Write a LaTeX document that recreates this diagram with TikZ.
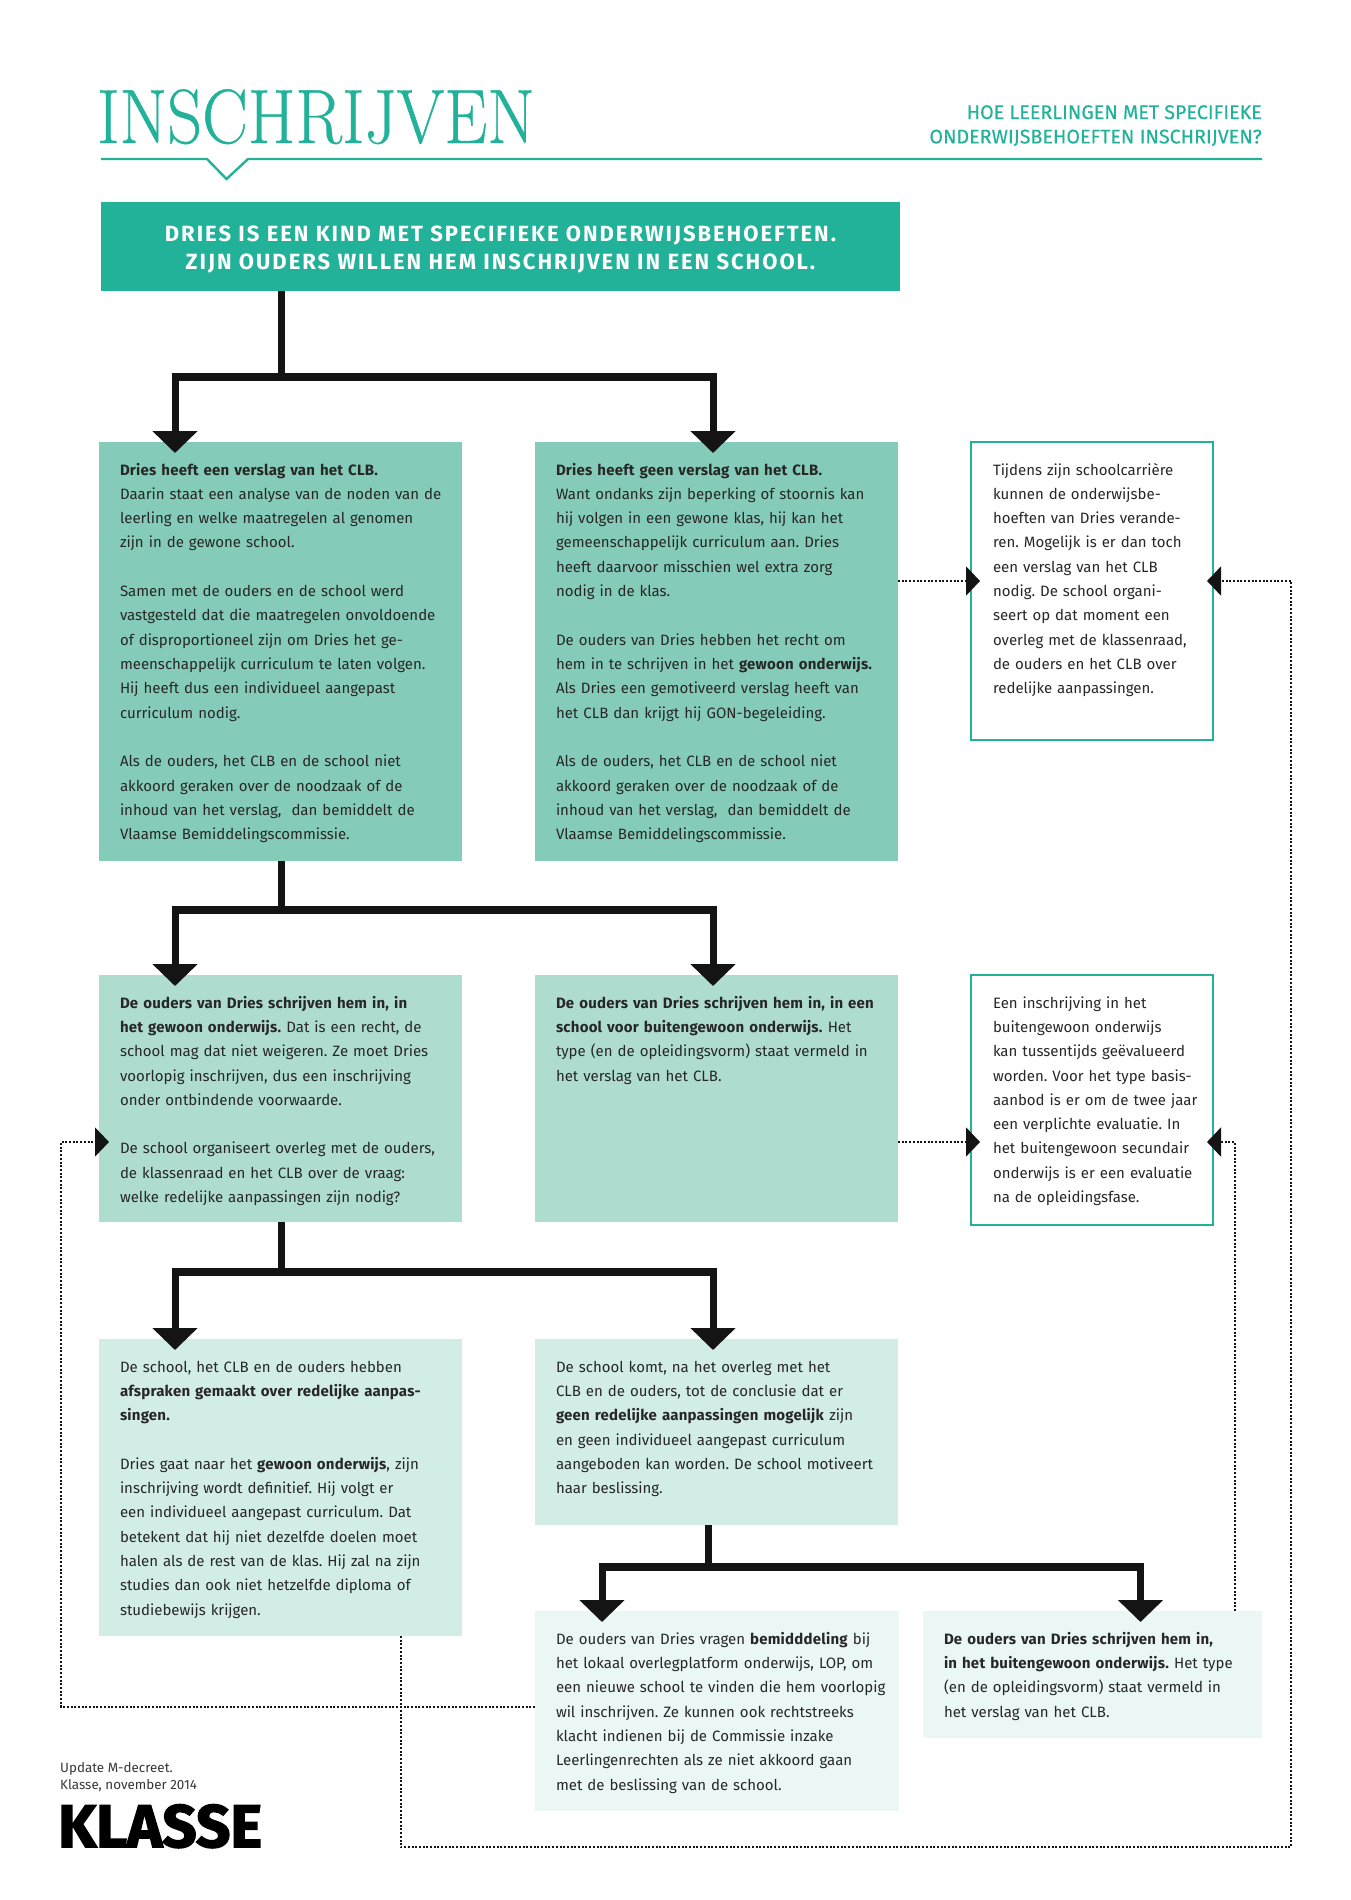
\documentclass[tikz,border=0pt]{standalone}
\usepackage{fontspec}
\setsansfont[BoldFeatures={LetterSpace=1.5}]{Fira Sans}
\newfontfamily\titlefont[FakeBold=0.5]{Latin Modern Roman}
\newfontfamily\headfont[FakeBold=0.35]{Fira Sans}
\newfontfamily\capsfont[LetterSpace=9]{Fira Sans}
\newfontfamily\logofont[FakeBold=2.5]{Fira Sans}
\usepackage{xcolor}
\usetikzlibrary{arrows.meta,positioning,calc}
\definecolor{klassegreen}{HTML}{22B29A}
\definecolor{rowone}{HTML}{85CBB9}
\definecolor{rowtwo}{HTML}{AEDCCF}
\definecolor{rowthree}{HTML}{D2EDE5}
\definecolor{rowfour}{HTML}{EAF7F4}
\definecolor{inkblack}{HTML}{141414}
\newcommand{\gap}{\\[24.33pt]}
\tikzset{
  bodybox/.style={anchor=north west, inner xsep=21pt, inner ysep=0pt, outer sep=0pt,
    text height=33pt, align=left, text=inkblack!92,
    font=\sffamily\frenchspacing\fontsize{15}{24.33}\selectfont},
  notebox/.style={bodybox, inner xsep=22pt, text width=198pt, fill=white, draw=klassegreen, line width=1.2pt},
  stem/.style={line width=7pt, inkblack},
  forkbar/.style={line width=8pt, inkblack},
  arm/.style={line width=7pt, inkblack, shorten >=-11pt, -{Triangle[width=44pt,length=22pt]}},
  dots/.style={line width=2pt, inkblack, dash pattern=on 2pt off 1.7pt},
  sidearrow/.style={dots, -{Triangle[width=29pt,length=14pt]}}
}
\begin{document}
\begin{tikzpicture}[x=1pt,y=-1pt]
\useasboundingbox (0,0) rectangle (1350,1900);
% Title and rule
\node[anchor=base west, inner sep=0pt, text=klassegreen, font=\titlefont\fontsize{77}{77}\selectfont, xscale=0.89, transform shape] (title) at (97,143) {INSCHRIJVEN};
\node[anchor=base east, inner sep=0pt, text=klassegreen, align=right, font=\headfont\fontsize{19.7}{24.4}\selectfont] (subtitle) at (1262,143.4) {HOE LEERLINGEN MET SPECIFIEKE\\ONDERWIJSBEHOEFTEN INSCHRIJVEN?};
\coordinate (ruleL) at (101,159);
\coordinate (ruleR) at (1262,159);
\draw[klassegreen, line width=2.4pt] (ruleL) -- (207,159) -- (226.5,179) -- (248,159) -- (ruleR);
% Intro box
\node[anchor=north west, fill=klassegreen, text=white, outer sep=0pt, inner sep=0pt, text width=799pt, text height=39.5pt, text depth=49.5pt, align=center, font=\capsfont\bfseries\fontsize{22}{28}\selectfont] (intro) at (101,202) {DRIES IS EEN KIND MET SPECIFIEKE ONDERWIJSBEHOEFTEN.\\ZIJN OUDERS WILLEN HEM INSCHRIJVEN IN EEN SCHOOL.};
% First row
\node[bodybox, fill=rowone, text width=321pt, text depth=386pt] (report) at (99,442) {\textbf{Dries heeft een verslag van het CLB.}\\\mbox{Daarin staat een analyse van de noden van de}\\leerling en welke maatregelen al genomen\\zijn in de gewone school.\gap Samen met de ouders en de school werd\\\mbox{vastgesteld dat die maatregelen onvoldoende}\\of disproportioneel zijn om Dries het ge-\\\mbox{meenschappelijk curriculum te laten volgen.}\\Hij heeft dus een individueel aangepast\\curriculum nodig.\gap Als de ouders, het CLB en de school niet\\akkoord geraken over de noodzaak of de\\inhoud van het verslag,\ \ dan bemiddelt de\\Vlaamse Bemiddelingscommissie.};
\node[bodybox, fill=rowone, text width=321pt, text depth=386pt] (noreport) at (535,442) {\textbf{Dries heeft geen verslag van het CLB.}\\Want ondanks zijn beperking of stoornis kan\\hij volgen in een gewone klas, hij kan het\\gemeenschappelijk curriculum aan. Dries\\heeft daarvoor misschien wel extra zorg\\nodig in de klas.\gap De ouders van Dries hebben het recht om\\\mbox{hem in te schrijven in het \textbf{gewoon onderwijs.}}\\Als Dries een gemotiveerd verslag heeft van\\het CLB dan krijgt hij GON-begeleiding.\gap Als de ouders, het CLB en de school niet\\akkoord geraken over de noodzaak of de\\inhoud van het verslag,\ \ dan bemiddelt de\\Vlaamse Bemiddelingscommissie.};
\node[notebox, text depth=265pt] (noteone) at (971,442) {Tijdens zijn schoolcarrière\\kunnen de onderwijsbe-\\\mbox{hoeften van Dries verande-}\\\mbox{ren. Mogelijk is er dan toch}\\een verslag van het CLB\\nodig. De school organi-\\seert op dat moment een\\\mbox{overleg met de klassenraad,}\\de ouders en het CLB over\\redelijke aanpassingen.};
% Second row
\node[bodybox, fill=rowtwo, text width=321pt, text depth=214pt] (gewoon) at (99,975) {\textbf{De ouders van Dries schrijven hem in, in}\\\textbf{het gewoon onderwijs.} Dat is een recht, de\\school mag dat niet weigeren. Ze moet Dries\\voorlopig inschrijven, dus een inschrijving\\onder ontbindende voorwaarde.\gap \mbox{De school organiseert overleg met de ouders,}\\de klassenraad en het CLB over de vraag:\\welke redelijke aanpassingen zijn nodig?};
\node[bodybox, fill=rowtwo, text width=321pt, text depth=214pt] (buitengewoon) at (535,975) {\mbox{\textbf{De ouders van Dries schrijven hem in, in een}}\\\textbf{school voor buitengewoon onderwijs.} Het\\type (en de opleidingsvorm) staat vermeld in\\het verslag van het CLB.};
\node[notebox, text depth=217pt] (notetwo) at (971,975) {Een inschrijving in het\\buitengewoon onderwijs\\\mbox{kan tussentijds geëvalueerd}\\\mbox{worden. Voor het type basis-}\\\mbox{aanbod is er om de twee jaar}\\een verplichte evaluatie. In\\\mbox{het buitengewoon secundair}\\\mbox{onderwijs is er een evaluatie}\\na de opleidingsfase.};
% Third row
\node[bodybox, fill=rowthree, text width=321pt, text depth=264pt] (afspraken) at (99,1339) {De school, het CLB en de ouders hebben\\\mbox{\textbf{afspraken gemaakt over redelijke aanpas-}}\\\textbf{singen.}\gap Dries gaat naar het \textbf{gewoon onderwijs}, zijn\\inschrijving wordt definitief. Hij volgt er\\een individueel aangepast curriculum. Dat\\betekent dat hij niet dezelfde doelen moet\\halen als de rest van de klas. Hij zal na zijn\\studies dan ook niet hetzelfde diploma of\\studiebewijs krijgen.};
\node[bodybox, fill=rowthree, text width=321pt, text depth=153pt] (conclusie) at (535,1339) {De school komt, na het overleg met het\\CLB en de ouders, tot de conclusie dat er\\\mbox{\textbf{geen redelijke aanpassingen mogelijk} zijn}\\en geen individueel aangepast curriculum\\\mbox{aangeboden kan worden. De school motiveert}\\haar beslissing.};
% Fourth row
\node[bodybox, fill=rowfour, text width=322pt, text depth=167pt] (lop) at (535,1611) {De ouders van Dries vragen \textbf{bemidddeling} bij\\\mbox{het lokaal overlegplatform onderwijs, LOP, om}\\\mbox{een nieuwe school te vinden die hem voorlopig}\\wil inschrijven. Ze kunnen ook rechtstreeks\\klacht indienen bij de Commissie inzake\\Leerlingenrechten als ze niet akkoord gaan\\met de beslissing van de school.};
\node[bodybox, fill=rowfour, text width=297pt, text depth=94pt] (inschrijving) at (923,1611) {\textbf{De ouders van Dries schrijven hem in,}\\\mbox{\textbf{in het buitengewoon onderwijs.} Het type}\\(en de opleidingsvorm) staat vermeld in\\het verslag van het CLB.};
% Footer
\node[anchor=base west, inner sep=0pt, align=left, text=inkblack!85, font=\sffamily\fontsize{13.4}{16.5}\selectfont] (update) at (60,1789) {Update M-decreet.\\Klasse, november 2014};
\node[anchor=base west, inner sep=0pt, text=black, font=\logofont\bfseries\fontsize{60}{60}\selectfont] (logo) at (58,1847) {KLASSE};
% Forks
\coordinate (forkA) at (281,377);
\coordinate (forkB) at (281,910);
\coordinate (forkC) at (281,1272);
\coordinate (forkD) at (708.5,1567);
\draw[stem] (intro.south -| forkA) -- (forkA);
\draw[stem] (report.south -| forkB) -- (forkB);
\draw[stem] (gewoon.south -| forkC) -- (forkC);
\draw[stem] (conclusie.south -| forkD) -- (forkD);
\draw[forkbar] (171.5,377) -- (716.5,377);
\draw[forkbar] (171.5,910) -- (716.5,910);
\draw[forkbar] (171.5,1272) -- (716.5,1272);
\draw[forkbar] (598.5,1567) -- (1144,1567);
\draw[arm] (175,373) -- (175,442);
\draw[arm] (713,373) -- (713,442);
\draw[arm] (175,906) -- (175,975);
\draw[arm] (713,906) -- (713,975);
\draw[arm] (175,1268) -- (175,1339);
\draw[arm] (713,1268) -- (713,1339);
\draw[arm] (602,1563) -- (602,1611);
\draw[arm] (1140.5,1563) -- (1140.5,1611);
% Feedback lines
\coordinate (sideA) at (971,581);
\coordinate (sideB) at (971,1142);
\draw[sidearrow, shorten >=-9pt] (noreport.east |- sideA) -- (sideA);
\draw[sidearrow, shorten >=-9pt] (buitengewoon.east |- sideB) -- (sideB);
\draw[sidearrow, shorten >=-6pt] (inschrijving.north -| 1235,0) -- (1235,1142) -- (notetwo.east |- sideB);
\draw[sidearrow, shorten >=-6pt] (afspraken.south -| 400.5,0) -- (400.5,1847) -- (1291,1847) -- (1291,581) -- (noteone.east |- sideA);
\draw[sidearrow, shorten >=-10pt] (lop.west |- 0,1707) -- (61,1707) -- (61,1142) -- (gewoon.west |- sideB);
\end{tikzpicture}
\end{document}
